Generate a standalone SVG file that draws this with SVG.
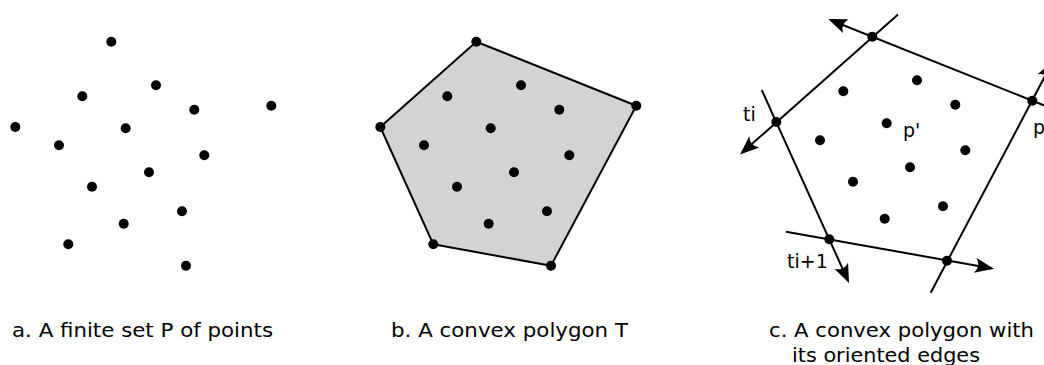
<svg xmlns="http://www.w3.org/2000/svg" width="1044" height="365" viewBox="0 0 1044 365">
<style>
.pt{fill:#000}
.ln{stroke:#000;stroke-width:2;fill:none}
.hull{fill:#d3d3d3;stroke:#000;stroke-width:2;stroke-linejoin:round}
.lbl{font-family:"DejaVu Sans",sans-serif;font-size:19px;fill:#000}
.cap{font-family:"DejaVu Sans",sans-serif;font-size:19px;fill:#000}
</style>
<defs>
<marker id="arr" markerUnits="userSpaceOnUse" markerWidth="30" markerHeight="30" refX="0" refY="0" viewBox="-20 -10 30 20" orient="auto" overflow="visible">
<path d="M3,0 L-16,-7.5 Q-10,0 -16,7.5 Z" fill="#000"/>
</marker>
<g id="pts">
<circle class="pt" cx="111.3" cy="41.7" r="5"/>
<circle class="pt" cx="156" cy="85.3" r="5"/>
<circle class="pt" cx="82.3" cy="96.3" r="5"/>
<circle class="pt" cx="194.3" cy="109.7" r="5"/>
<circle class="pt" cx="271.3" cy="105.7" r="5"/>
<circle class="pt" cx="15.3" cy="127" r="5"/>
<circle class="pt" cx="125.7" cy="128.3" r="5"/>
<circle class="pt" cx="59" cy="145.3" r="5"/>
<circle class="pt" cx="204.3" cy="155.3" r="5"/>
<circle class="pt" cx="149" cy="172.3" r="5"/>
<circle class="pt" cx="92" cy="186.7" r="5"/>
<circle class="pt" cx="182" cy="211.3" r="5"/>
<circle class="pt" cx="123.7" cy="223.7" r="5"/>
<circle class="pt" cx="68.3" cy="244.3" r="5"/>
<circle class="pt" cx="186" cy="265.7" r="5"/>
</g>
</defs>
<g id="panel-a">
<use href="#pts"/>
<text class="cap" x="12" y="337" textLength="261" lengthAdjust="spacingAndGlyphs">a. A finite set P of points</text>
</g>
<g id="panel-b">
<polygon class="hull" points="476.3,41.7 636.3,105.7 551,265.7 433.3,244.3 380.3,127"/>
<use href="#pts" transform="translate(365,0)"/>
<text class="cap" x="391" y="337" textLength="237" lengthAdjust="spacingAndGlyphs">b. A convex polygon T</text>
</g>
<g id="panel-c">
<g id="connectors">
<line class="ln" x1="898" y1="14.5" x2="742.3" y2="152.5" marker-end="url(#arr)"/>
<line class="ln" x1="1050" y1="107.8" x2="831" y2="20.2" marker-end="url(#arr)"/>
<line class="ln" x1="930.7" y1="292.7" x2="1051.6" y2="63.6" marker-end="url(#arr)"/>
<line class="ln" x1="786" y1="231.7" x2="991" y2="268.2" marker-end="url(#arr)"/>
<line class="ln" x1="761.7" y1="90" x2="847.8" y2="280.3" marker-end="url(#arr)"/>
</g>
<use href="#pts" transform="translate(761,-5)"/>
<text class="lbl" x="743" y="121">ti</text>
<text class="lbl" x="903" y="137">p'</text>
<text class="lbl" x="1033" y="134">p</text>
<text class="lbl" x="787" y="268">ti+1</text>
<text class="cap" x="769" y="337" textLength="265" lengthAdjust="spacingAndGlyphs">c. A convex polygon with</text>
<text class="cap" x="792" y="362" textLength="188" lengthAdjust="spacingAndGlyphs">its oriented edges</text>
</g>
</svg>
